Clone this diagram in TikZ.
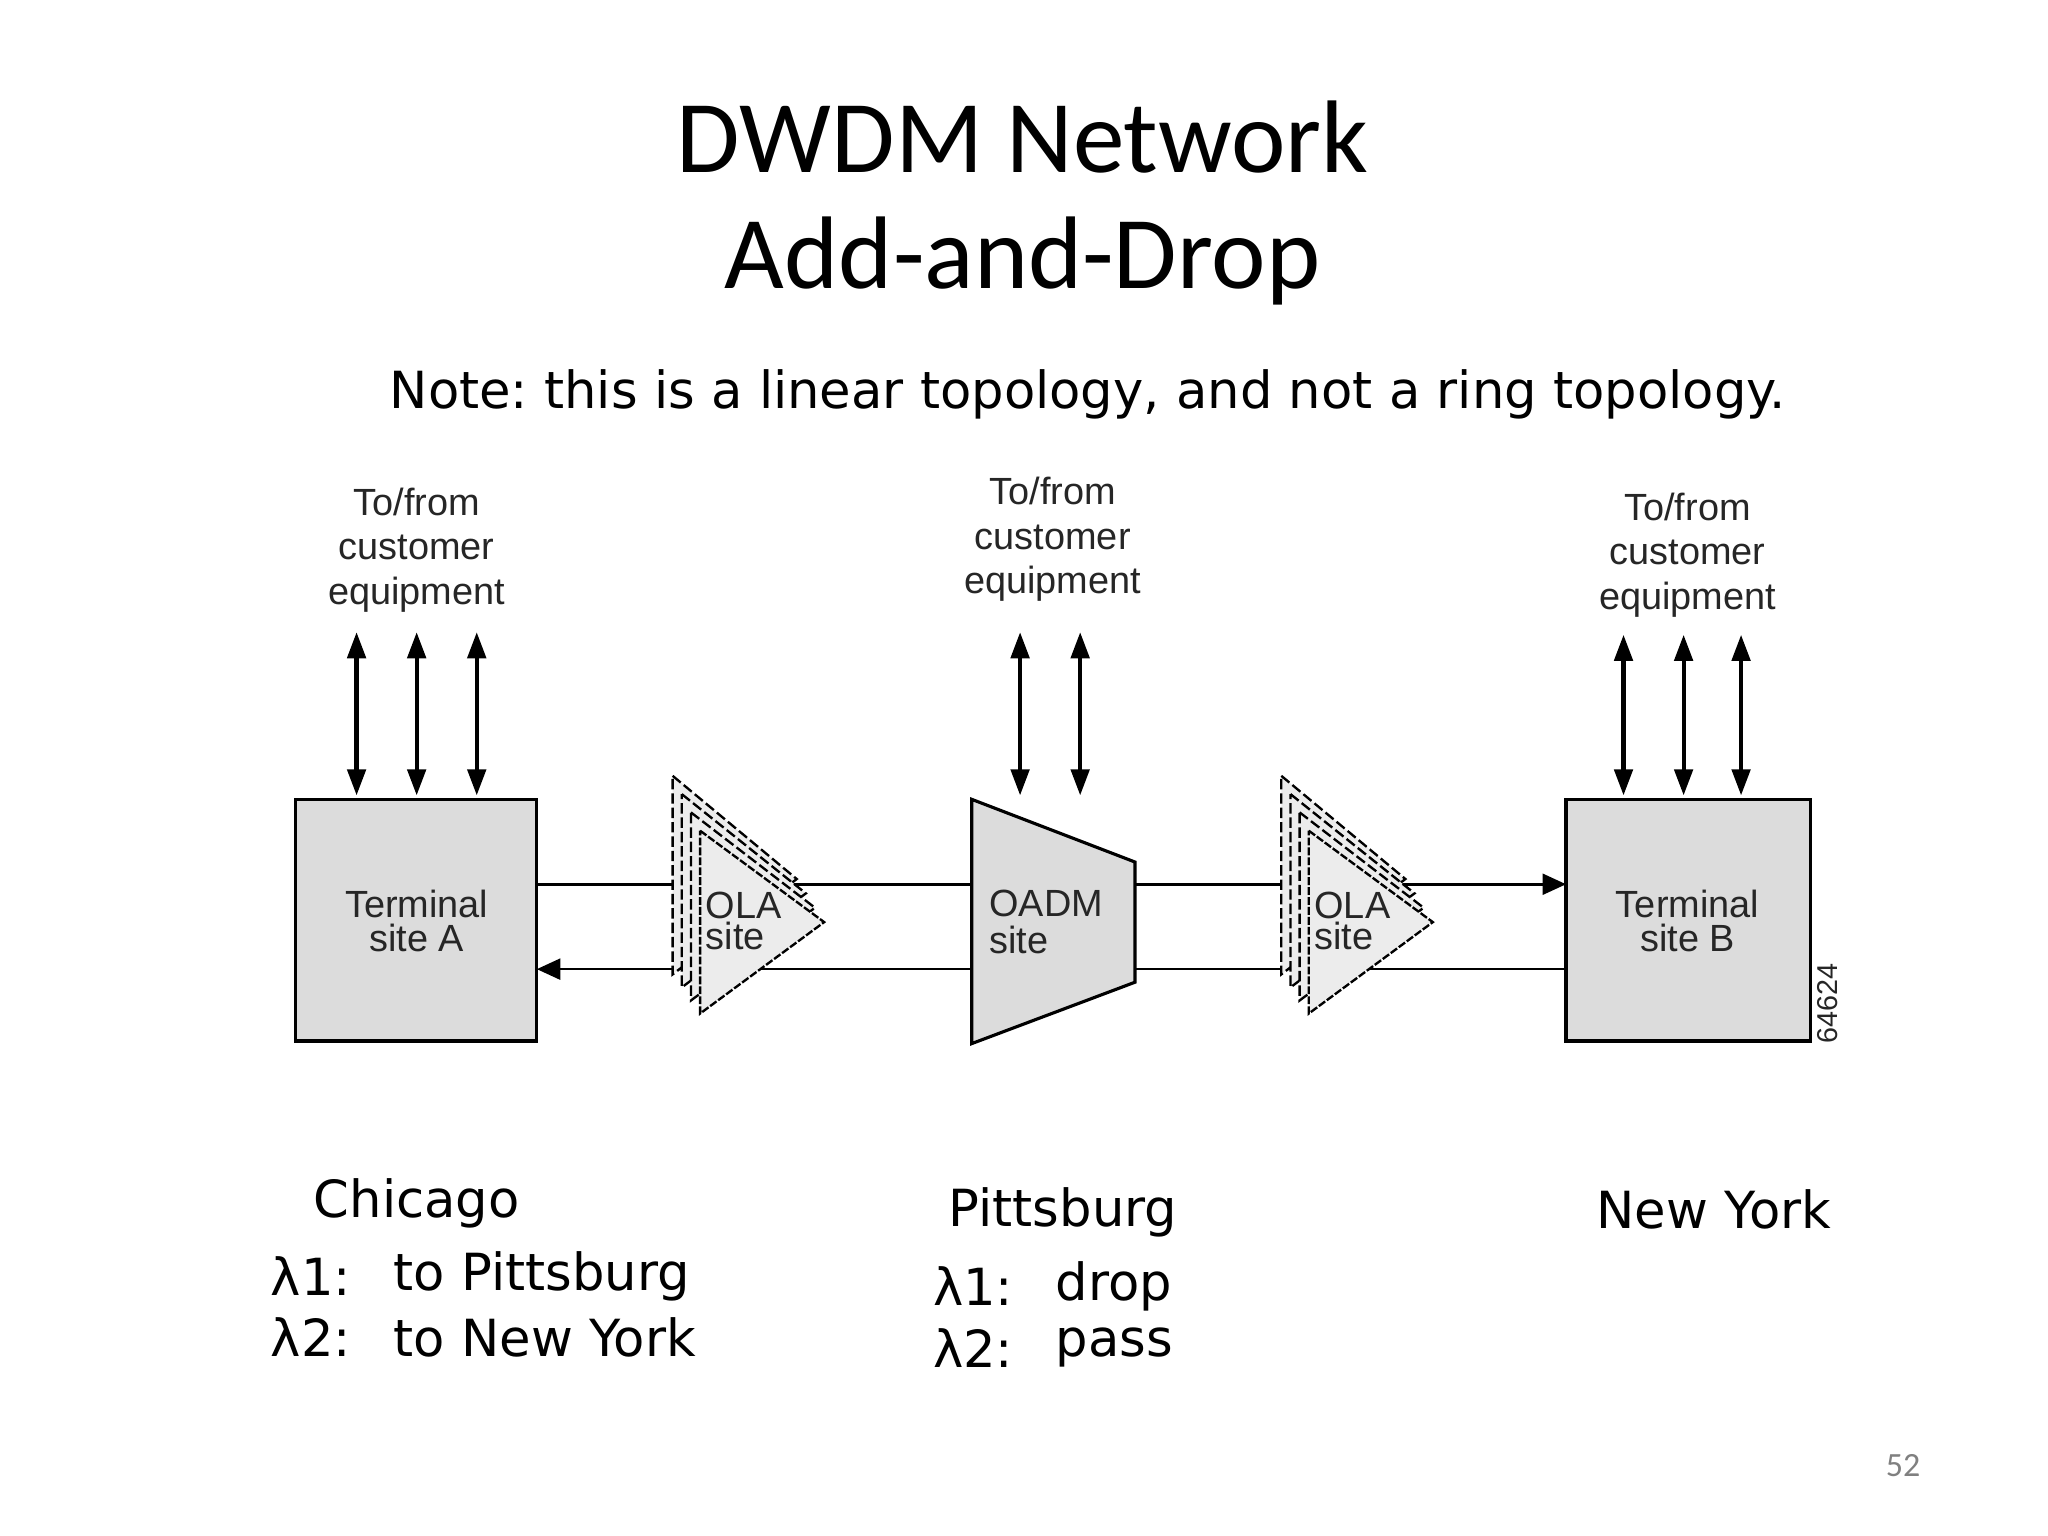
\documentclass[tikz,border=0pt]{standalone}
\usepackage{fontspec}
\setmainfont{DejaVu Sans}
\newfontfamily\titlefont{Carlito}
\newfontfamily\diafont{Liberation Sans}
\usetikzlibrary{arrows.meta}
\definecolor{boxgray}{RGB}{220,220,220}
\definecolor{olagray}{RGB}{236,236,236}
\frenchspacing
\begin{document}
\begin{tikzpicture}[x=0.5pt,y=-0.5pt,
  site/.style={draw,line width=1.2pt,fill=boxgray},
  dia/.style={font=\diafont\fontsize{14.5}{16}\selectfont,text=black!85},
  cust/.style={dia,align=center,inner sep=0pt},
  io/.style={line width=1.6pt,{Triangle[length=10pt,width=7pt]}-{Triangle[length=10pt,width=7pt]}},
  fiber/.style={line width=1pt,-{Triangle[length=9pt,width=8pt]}},
  lbl/.style={anchor=west,font=\fontsize{19.6}{21}\selectfont,inner sep=0pt}]
\useasboundingbox (0,0) rectangle (1568,1176);

% titles
\node[font=\titlefont\fontsize{39.5}{41}\selectfont] (t1) at (783,105) {DWDM Network};
\node[font=\titlefont\fontsize{39.5}{41}\selectfont] (t2) at (783,200) {Add-and-Drop};
\node[lbl] (note) at (298,302) {Note: this is a linear topology, and not a ring topology.};

% sites
\node[site,minimum width=92.5pt,minimum height=92.5pt] (A) at (318.5,704.5) {};
\node[site,minimum width=93.5pt,minimum height=92.5pt] (B) at (1292.5,704.5) {};
\node[dia,align=center] (Al) at (319,705) {Terminal\\[-3pt]site A};
\node[dia,align=center] (Bl) at (1292,705) {Terminal\\[-3pt]site B};

% fibers
\coordinate (Aout) at (411,677);
\coordinate (Ain) at (411,742);
\coordinate (Bin) at (1199,677);
\coordinate (Bout) at (1199,742);
\draw[fiber] (Aout) -- (Bin);
\draw[fiber] (Bout) -- (Ain);

% OLA amplifiers
\foreach \x/\n in {536/1,1002/2}{
  \foreach \k in {3,2,1}{
    \draw[dash pattern=on 4pt off 1.5pt,line width=0.9pt,fill=olagray]
      (\x-7*\k,636-14*\k) -- (\x+95-7*\k,706-11*\k) -- (\x-7*\k,776-10*\k) -- cycle;
  }
  \draw[dash pattern=on 3pt off 0.8pt,line width=0.9pt,fill=olagray] (\x,636) -- (\x+95,706) -- (\x,776) -- cycle;
  \node[dia,align=left,anchor=west,inner sep=0pt] (ola\n) at (\x+4,705) {OLA\\[-4pt]site};
}

% OADM
\draw[line width=1.2pt,fill=boxgray] (744,612) -- (869,660) -- (869,752) -- (744,799) -- cycle;
\node[dia,align=left,anchor=west,inner sep=0pt] (oadm) at (757,706) {OADM\\[-2pt]site};

% customer equipment
\node[cust] (cA) at (319,421) {To/from\\[1pt]customer\\[1pt]equipment};
\node[cust] (cM) at (806,413) {To/from\\[1pt]customer\\[1pt]equipment};
\node[cust] (cB) at (1292,425) {To/from\\[1pt]customer\\[1pt]equipment};
\foreach \x in {273,319,365}{\draw[io] (\x,484) -- (\x,609);}
\foreach \x in {781,827}{\draw[io] (\x,484) -- (\x,609);}
\foreach \x in {1243,1289,1333}{\draw[io] (\x,486) -- (\x,609);}

\node[dia,rotate=90,font=\diafont\fontsize{11}{12}\selectfont,inner sep=0pt] (num) at (1399,768) {64624};

% city labels
\node[lbl] (chi) at (240,921) {Chicago};
\node[lbl] (c1) at (207,977) {λ1:};
\node[lbl] (c1b) at (301,977) {to Pittsburg};
\node[lbl] (c2) at (207,1024) {λ2:};
\node[lbl] (c2b) at (301,1024) {to New York};
\node[lbl] (pit) at (726,928) {Pittsburg};
\node[lbl] (p1) at (714,985) {λ1:};
\node[lbl] (p1b) at (808,985) {drop};
\node[lbl] (p2) at (714,1032) {λ2:};
\node[lbl] (p2b) at (808,1032) {pass};
\node[lbl] (ny) at (1222,926) {New York};
\node[font=\titlefont\fontsize{13}{14}\selectfont,text=black!50] (pg) at (1457,1122) {52};
\end{tikzpicture}
\end{document}
